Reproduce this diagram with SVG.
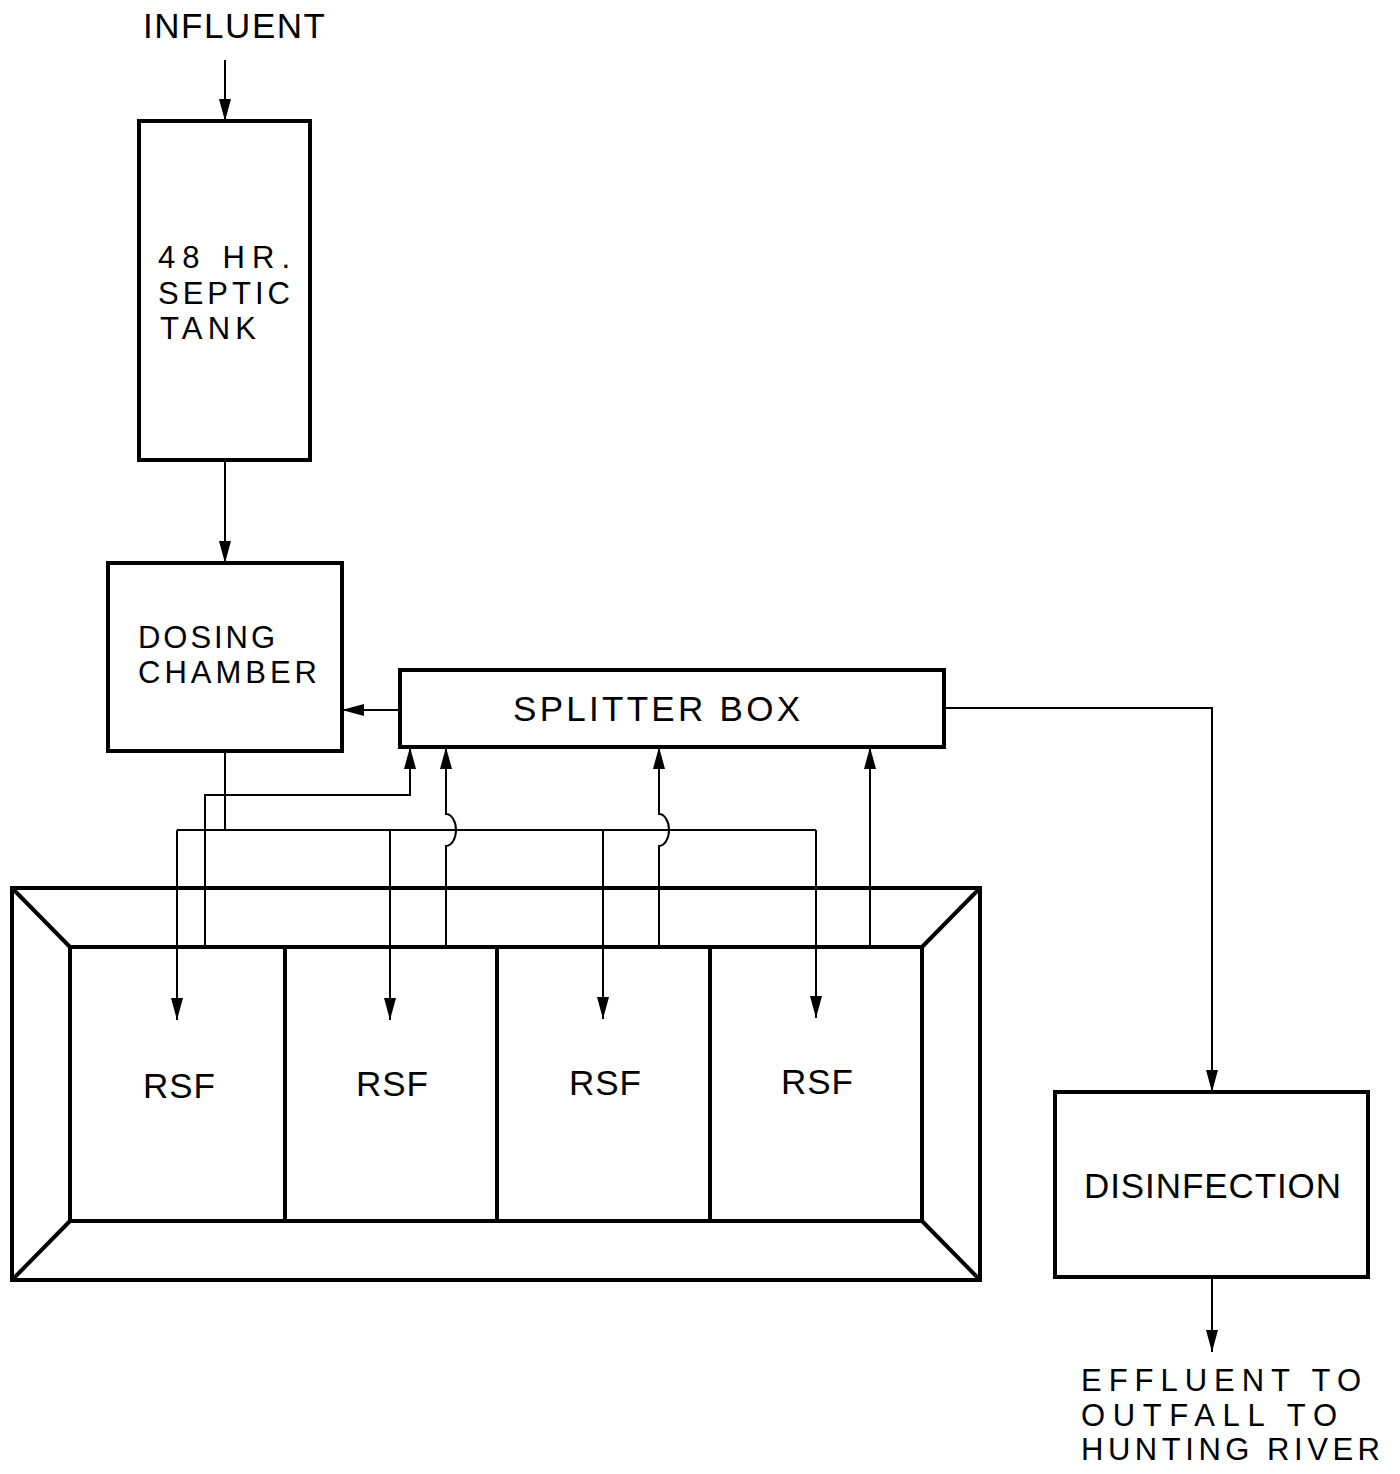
<svg xmlns="http://www.w3.org/2000/svg" width="1400" height="1474" viewBox="0 0 1400 1474">
<style>
.box{fill:none;stroke:#000;stroke-width:4}
.ln{fill:none;stroke:#000;stroke-width:2}
.t{font-family:"Liberation Sans",Arial,sans-serif;font-size:31px;fill:#000}
.s{font-family:"Liberation Sans",Arial,sans-serif;font-size:35px;fill:#000}
</style>
<defs>
<marker id="ah" markerWidth="22" markerHeight="12" refX="22" refY="6" viewBox="0 0 22 12" markerUnits="userSpaceOnUse" orient="auto">
<path d="M0,0 L22,6 L0,12 Z" fill="#000"/>
</marker>
</defs>
<rect width="1400" height="1474" fill="#fff"/>
<text class="s" x="143" y="38" textLength="182" lengthAdjust="spacing">INFLUENT</text>
<g id="septic">
<rect class="box" x="139" y="121" width="171" height="339"/>
<text class="t" x="158" y="268" textLength="132" lengthAdjust="spacing">48 HR.</text>
<text class="t" x="158" y="304" textLength="132" lengthAdjust="spacing">SEPTIC</text>
<text class="t" x="160" y="339" textLength="96" lengthAdjust="spacing">TANK</text>
</g>
<g id="dosing">
<rect class="box" x="108" y="563" width="234" height="188"/>
<text class="t" x="138" y="648" textLength="137" lengthAdjust="spacing">DOSING</text>
<text class="t" x="138" y="683" textLength="179" lengthAdjust="spacing">CHAMBER</text>
</g>
<g id="splitter">
<rect class="box" x="400" y="670" width="544" height="77"/>
<text class="s" x="513" y="721" textLength="287" lengthAdjust="spacing">SPLITTER BOX</text>
</g>
<g id="rsf">
<rect class="box" x="12" y="888" width="968" height="392"/>
<rect class="box" x="70" y="947" width="852" height="274"/>
<line class="box" x1="12" y1="888" x2="70" y2="947"/>
<line class="box" x1="980" y1="888" x2="922" y2="947"/>
<line class="box" x1="12" y1="1280" x2="70" y2="1221"/>
<line class="box" x1="980" y1="1280" x2="922" y2="1221"/>
<line class="box" x1="285" y1="947" x2="285" y2="1221"/>
<line class="box" x1="497" y1="947" x2="497" y2="1221"/>
<line class="box" x1="710" y1="947" x2="710" y2="1221"/>
<text class="s" x="143" y="1098" textLength="72" lengthAdjust="spacing">RSF</text>
<text class="s" x="356" y="1096" textLength="72" lengthAdjust="spacing">RSF</text>
<text class="s" x="569" y="1095" textLength="72" lengthAdjust="spacing">RSF</text>
<text class="s" x="781" y="1094" textLength="72" lengthAdjust="spacing">RSF</text>
</g>
<g id="disinfection">
<rect class="box" x="1055" y="1092" width="313" height="185"/>
<text class="s" x="1084" y="1198" textLength="257" lengthAdjust="spacing">DISINFECTION</text>
</g>
<g id="effluent">
<text class="t" x="1081" y="1391" textLength="280" lengthAdjust="spacing">EFFLUENT TO</text>
<text class="t" x="1081" y="1426" textLength="256" lengthAdjust="spacing">OUTFALL TO</text>
<text class="t" x="1081" y="1460" textLength="299" lengthAdjust="spacing">HUNTING RIVER</text>
</g>
<g id="connectors">
<line class="ln" x1="225" y1="60" x2="225" y2="121" marker-end="url(#ah)"/>
<line class="ln" x1="225" y1="460" x2="225" y2="563" marker-end="url(#ah)"/>
<line class="ln" x1="400" y1="710" x2="342" y2="710" marker-end="url(#ah)"/>
<polyline class="ln" points="944,708 1212,708 1212,1092" marker-end="url(#ah)"/>
<line class="ln" x1="1212" y1="1277" x2="1212" y2="1352" marker-end="url(#ah)"/>
<polyline class="ln" points="225,751 225,830"/>
<line class="ln" x1="177" y1="830" x2="816" y2="830"/>
<line class="ln" x1="177" y1="830" x2="177" y2="1020" marker-end="url(#ah)"/>
<line class="ln" x1="390" y1="830" x2="390" y2="1020" marker-end="url(#ah)"/>
<line class="ln" x1="603" y1="830" x2="603" y2="1019" marker-end="url(#ah)"/>
<line class="ln" x1="816" y1="830" x2="816" y2="1018" marker-end="url(#ah)"/>
<polyline class="ln" points="205,947 205,795 410,795 410,747" marker-end="url(#ah)"/>
<path class="ln" d="M446,947 L446,846 A10,16 0 0 0 446,814 L446,747" marker-end="url(#ah)"/>
<path class="ln" d="M659,945 L659,846 A10,16 0 0 0 659,814 L659,747" marker-end="url(#ah)"/>
<line class="ln" x1="870" y1="945" x2="870" y2="747" marker-end="url(#ah)"/>
</g>
</svg>
